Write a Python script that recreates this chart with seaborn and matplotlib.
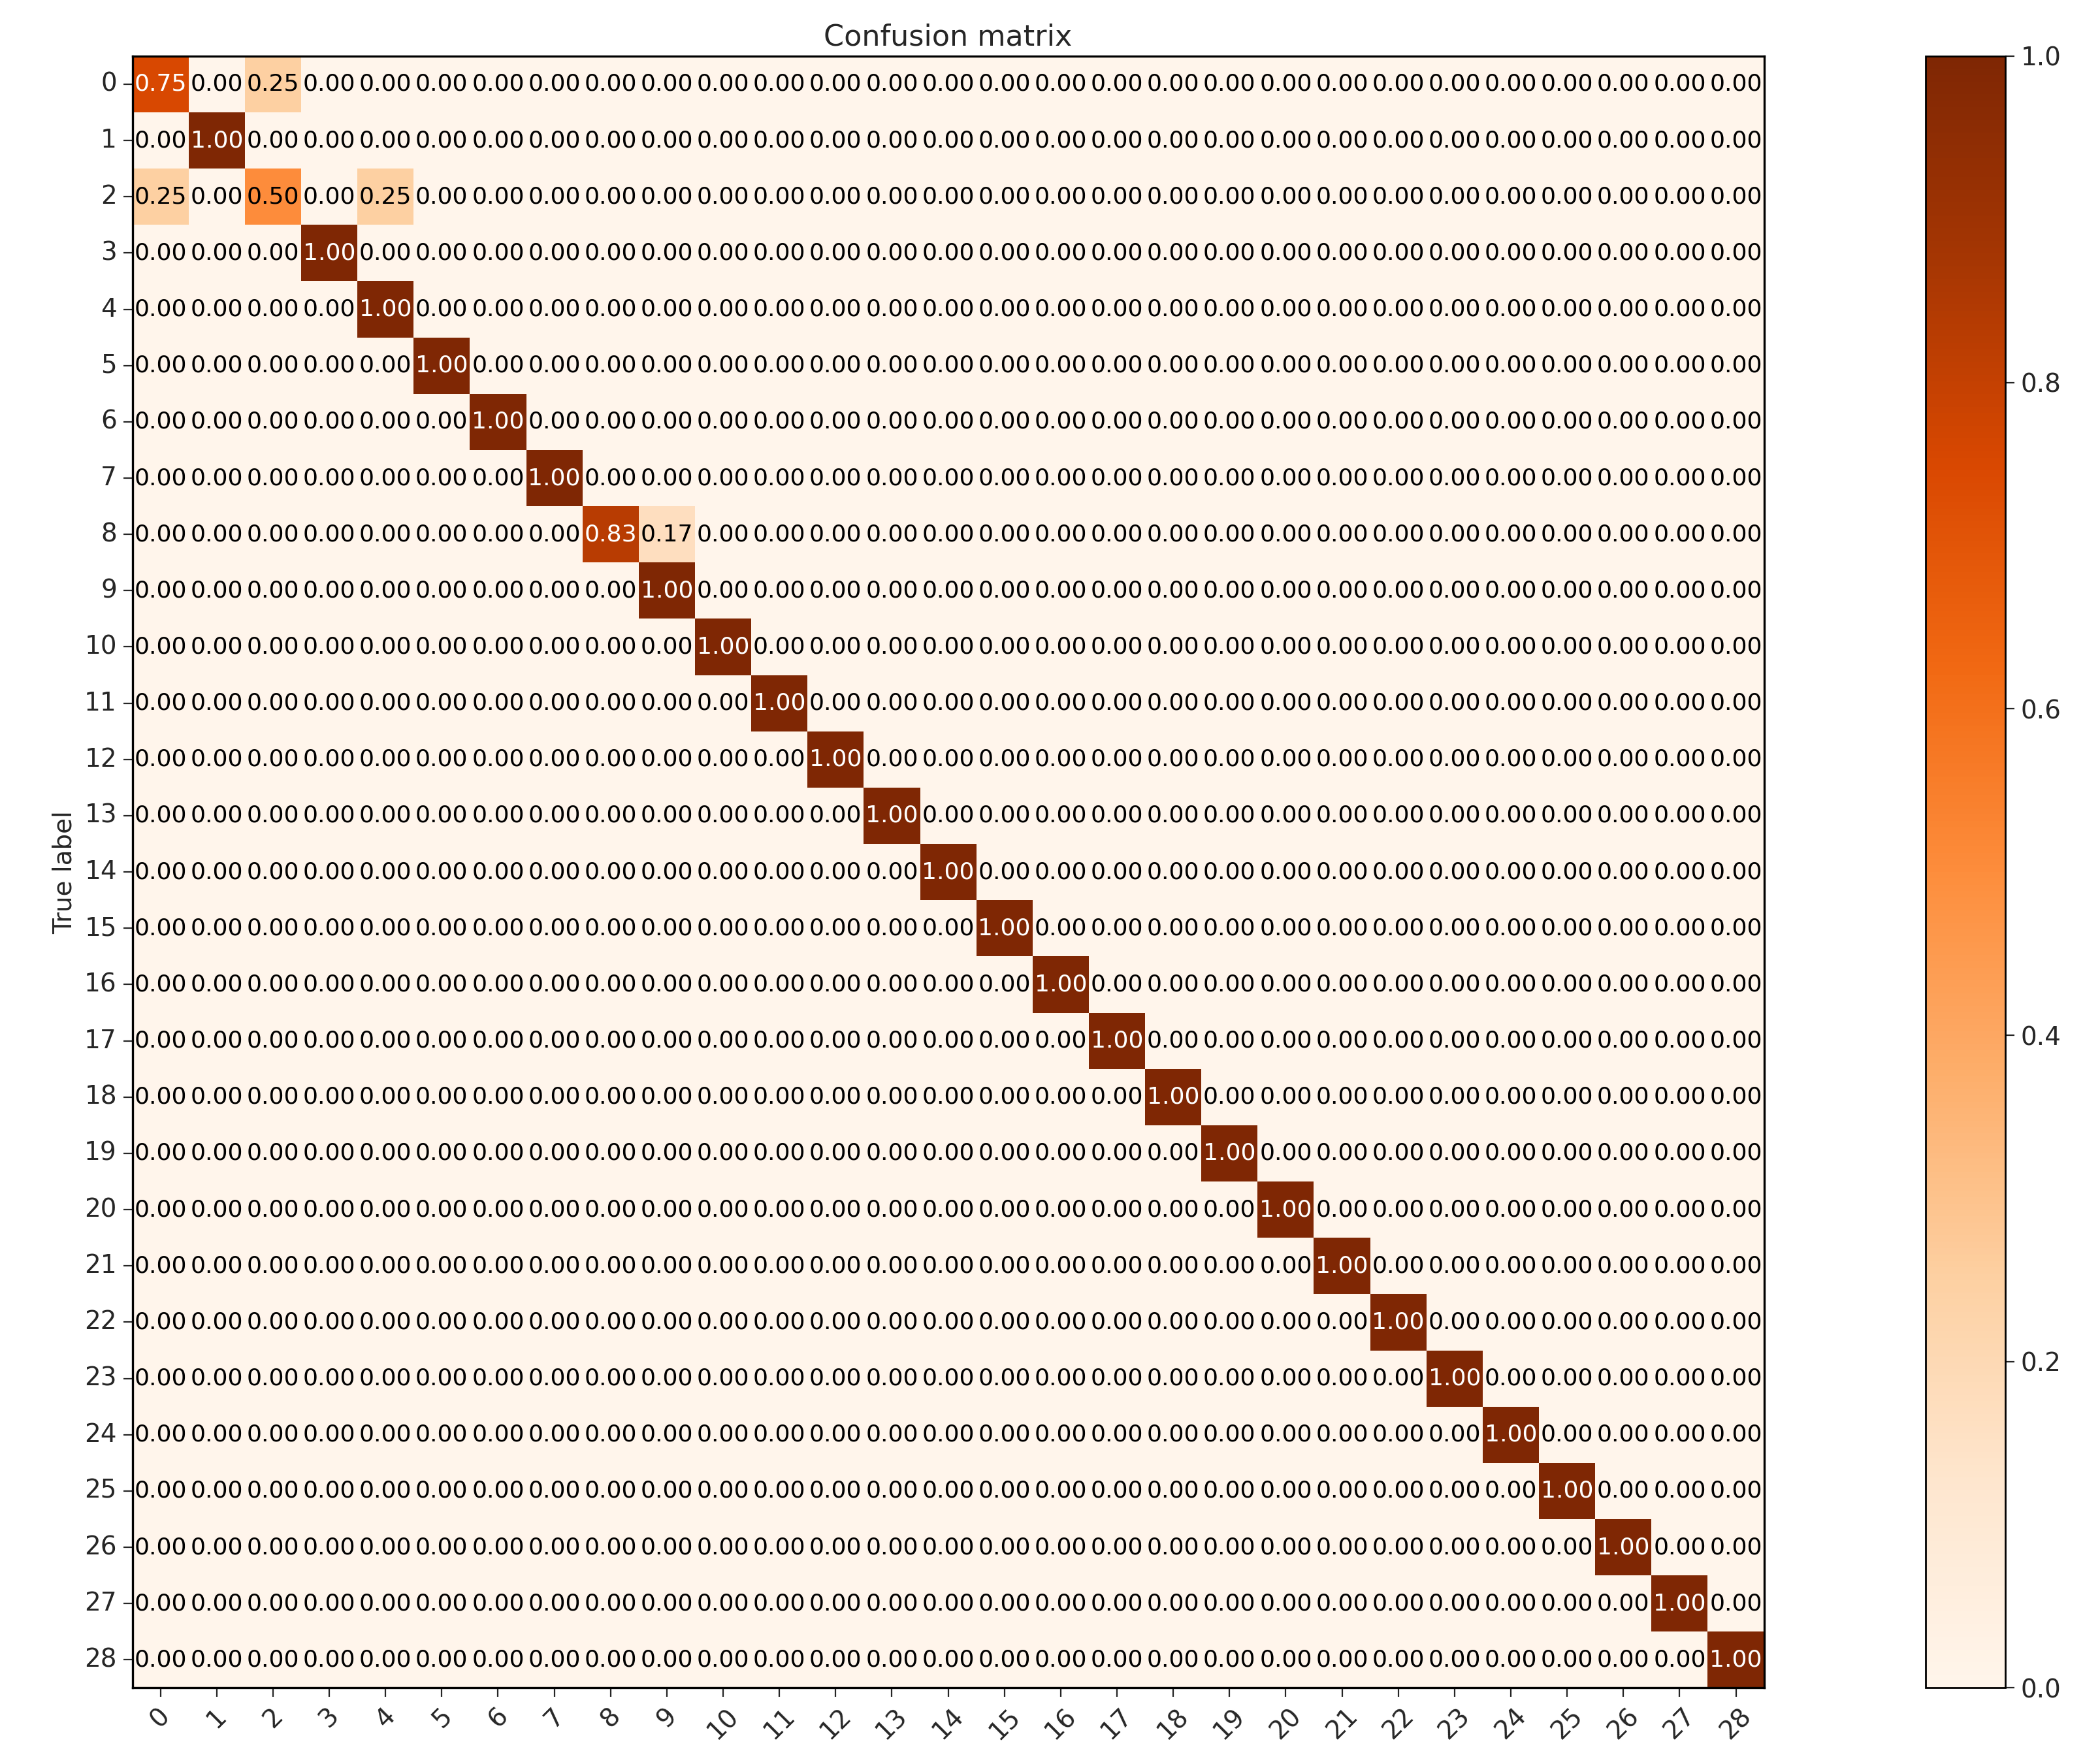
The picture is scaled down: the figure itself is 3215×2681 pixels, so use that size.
import matplotlib
matplotlib.use("Agg")
import matplotlib.pyplot as plt
import seaborn as sns
import numpy as np

n_classes = 29
labels = [str(i) for i in range(n_classes)]
# off-diagonal / partial rows
row0 = {0: 0.75, 2: 0.25}
row2 = {0: 0.25, 2: 0.50, 4: 0.25}
row8 = {8: 0.83, 9: 0.17}

cm = np.eye(n_classes)
for r, d in [(0, row0), (2, row2), (8, row8)]:
    cm[r, :] = 0
    for c, v in d.items():
        cm[r, c] = v

sns.set_style("white")
fig = plt.figure(figsize=(16.075, 13.405), dpi=200)
ax = fig.add_axes([0.063, 0.036, 0.777, 0.932])
cax = fig.add_axes([0.917, 0.036, 0.038, 0.932])

sns.heatmap(cm, ax=ax, cbar_ax=cax, cmap="Oranges", vmin=0, vmax=1,
            annot=True, fmt=".2f", annot_kws={"fontsize": 13},
            xticklabels=labels, yticklabels=labels, square=False)

# matplotlib-style text colours: white above half of max
for t, v in zip(ax.texts, cm.flatten()):
    t.set_color("white" if v > 0.5 else "black")

for s in ax.spines.values():
    s.set_visible(True)
    s.set_color("black")
    s.set_linewidth(1.2)
cbar = ax.collections[0].colorbar
cbar.outline.set_linewidth(1.0)
cbar.outline.set_edgecolor("black")
cbar.set_ticks([0, 0.2, 0.4, 0.6, 0.8, 1.0])
cax.tick_params(labelsize=14, length=5, left=False, right=True)

ax.tick_params(axis="both", labelsize=14, length=5, bottom=True, left=True)
plt.setp(ax.get_xticklabels(), rotation=45)
plt.setp(ax.get_yticklabels(), rotation=0)
ax.set_title("Confusion matrix", fontsize=16)
ax.set_ylabel("True label", fontsize=14)

fig.savefig("out.png", dpi=200)
